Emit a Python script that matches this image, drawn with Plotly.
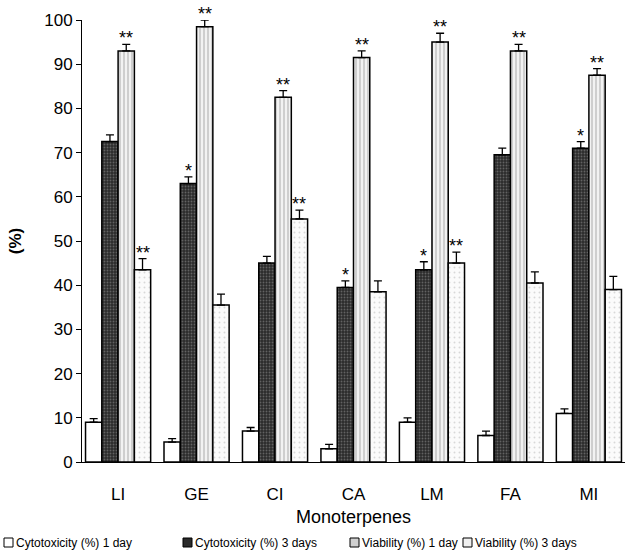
import plotly.graph_objects as go

categories = ["LI", "GE", "CI", "CA", "LM", "FA", "MI"]
series_names = ["Cytotoxicity (%) 1 day", "Cytotoxicity (%) 3 days",
                "Viability (%) 1 day", "Viability (%) 3 days"]
cyt_1day = [9, 4.5, 7, 3, 9, 6, 11]
cyt_1day_err = [0.8, 0.8, 0.8, 1.0, 1.0, 1.0, 1.0]
cyt_3day = [72.5, 63, 45, 39.5, 43.5, 69.5, 71]
cyt_3day_err = [1.5, 1.5, 1.5, 1.5, 1.8, 1.5, 1.5]
via_1day = [93, 98.5, 82.5, 91.5, 95, 93, 87.5]
via_1day_err = [1.5, 1.5, 1.5, 1.5, 2.0, 1.5, 1.5]
via_3day = [43.5, 35.5, 55, 38.5, 45, 40.5, 39]
via_3day_err = [2.5, 2.5, 2.0, 2.5, 2.5, 2.5, 3.0]
cyt_1day_sig = ["", "", "", "", "", "", ""]
cyt_3day_sig = ["", "*", "", "*", "*", "", "*"]
via_1day_sig = ["**", "**", "**", "**", "**", "**", "**"]
via_3day_sig = ["**", "", "**", "", "**", "", ""]
y_ticks = [0, 10, 20, 30, 40, 50, 60, 70, 80, 90, 100]

values = [cyt_1day, cyt_3day, via_1day, via_3day]
errors = [cyt_1day_err, cyt_3day_err, via_1day_err, via_3day_err]
sigs = [cyt_1day_sig, cyt_3day_sig, via_1day_sig, via_3day_sig]

styles = [
    dict(color="white", pattern=dict(shape="")),
    dict(color="#2b2b2b", pattern=dict(shape=".", fgcolor="#9a9a9a", bgcolor="#2b2b2b", size=3, solidity=0.3)),
    dict(color="white", pattern=dict(shape="|", fgcolor="#8a8a8a", bgcolor="#f2f2f2", size=4, solidity=0.35)),
    dict(color="white", pattern=dict(shape=".", fgcolor="#b5b5b5", bgcolor="#fbfbfb", size=5, solidity=0.12)),
]
legend_fill = ["white", "#2b2b2b", "#d0d0d0", "#f0f0f0"]

FONT = "Liberation Sans, Arial, sans-serif"
bargap = 0.17
fig = go.Figure()
for k in range(4):
    fig.add_trace(go.Bar(
        x=list(range(len(categories))), y=values[k], name=series_names[k],
        marker=dict(color=styles[k]["color"], pattern=styles[k]["pattern"],
                    line=dict(color="black", width=1.5)),
        error_y=dict(type="data", symmetric=False, array=errors[k],
                     arrayminus=[0] * len(categories), color="black",
                     thickness=1.3, width=4),
        showlegend=False,
    ))

bw = (1 - bargap) / 4
for k in range(4):
    off = (k - 1.5) * bw
    for i, s in enumerate(sigs[k]):
        if s:
            fig.add_annotation(x=i + off, y=values[k][i] + errors[k][i],
                               text=s, showarrow=False, yanchor="bottom",
                               yshift=-6, font=dict(size=18, color="black", family=FONT))

# legend drawn manually in one row
leg_box_x = [4, 183, 350, 463]
L, W, T, H = 82, 543, 20, 442
for k in range(4):
    x0 = (leg_box_x[k] - L) / W
    x1 = (leg_box_x[k] + 9 - L) / W
    y0 = (T + H - 547) / H
    y1 = (T + H - 538) / H
    fig.add_shape(type="rect", xref="paper", yref="paper", x0=x0, x1=x1, y0=y0, y1=y1,
                  line=dict(color="black", width=1), fillcolor=legend_fill[k])
    fig.add_annotation(xref="paper", yref="paper", x=(leg_box_x[k] + 10 - L) / W,
                       y=(T + H - 542.5) / H, text=series_names[k], showarrow=False,
                       xanchor="left", yanchor="middle",
                       font=dict(size=12, color="black", family=FONT))

fig.update_layout(
    width=625, height=554,
    margin=dict(l=L, r=0, t=T, b=554 - T - H),
    paper_bgcolor="white", plot_bgcolor="white",
    barmode="group", bargap=bargap, bargroupgap=0,
    font=dict(family=FONT, color="black"),
    xaxis=dict(range=[-0.46, 6.46], tickmode="array", automargin=False,
               tickvals=list(range(len(categories))), ticktext=categories,
               showline=True, linecolor="black", linewidth=1, ticks="",
               showgrid=False, zeroline=False, ticklabelstandoff=17,
               tickfont=dict(size=17, family=FONT),
               title=dict(text="Monoterpenes", font=dict(size=18, family=FONT), standoff=6)),
    yaxis=dict(range=[0, 100], tickmode="array", tickvals=y_ticks, automargin=False,
               showline=True, linecolor="black", linewidth=1, ticks="outside",
               ticklen=5, tickcolor="black", showgrid=False, zeroline=False,
               tickfont=dict(size=17, family=FONT),
               title=dict(text="<b>(%)</b>", font=dict(size=17, family=FONT), standoff=18)),
)

fig.write_html("out.html", config={"displayModeBar": False},
               post_script="document.body.style.margin='0';document.body.style.overflow='hidden';")
